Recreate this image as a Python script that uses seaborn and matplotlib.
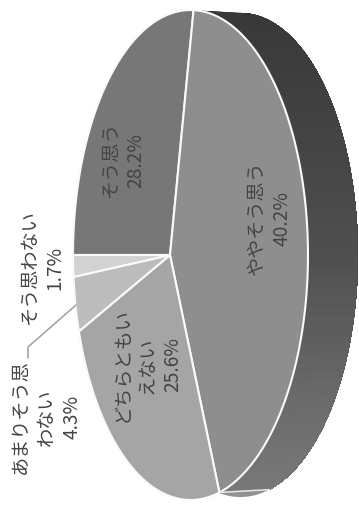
import numpy as np
import matplotlib
matplotlib.use("Agg")
import matplotlib.pyplot as plt
import seaborn as sns

categories = ["そう思う", "ややそう思う", "どちらともいえない", "あまりそう思わない", "そう思わない"]
values = [28.2, 40.2, 25.6, 4.3, 1.7]
label_texts = ["そう思う\n28.2%", "ややそう思う\n40.2%", "どちらともい\nえない\n25.6%",
               "あまりそう思\nわない\n4.3%", "そう思わない\n1.7%"]
label_pos = [(123, 160), (269, 218), (147, 365), (46, 417), (42, 268)]

sns.set_theme(style="white")
plt.rcParams["font.family"] = ["Noto Sans CJK JP", "DejaVu Sans"]

APEX = (170.0, 255.0)
K, A, C = -0.1745, 113.9, 241.2
SHIFT, YSCALE = 50.0, 0.988


def rim(theta):
    u, v = np.cos(theta), np.sin(theta)
    w = 1 + K * u
    return APEX[0] + A * u / w, APEX[1] - C * v / w


def back(x, y):
    return x + SHIFT, APEX[1] + (y - APEX[1]) * YSCALE


fig = plt.figure(figsize=(3.59, 5.05), dpi=100)
ax = fig.add_axes([0, 0, 1, 1])
ax.set_xlim(0, 359)
ax.set_ylim(505, 0)
ax.set_axis_off()

palette = sns.blend_palette(["#777777", "#d2d2d2"], len(values))
fractions = np.cumsum([0] + values) / np.sum(values)
angles = np.pi - 2 * np.pi * fractions

# side wall: painted top to bottom, each layer covering all that lies below it
wall_y = [12, 250, 400, 487]
wall_tone = [0.22, 0.31, 0.42, 0.47]
wall_end = angles[2]
starts = np.linspace(angles[0] * 0.62, wall_end, 90)[:-1]
for t_start in starts:
    ts = np.linspace(t_start, wall_end, 200)
    xs, ys = rim(ts)
    bxs, bys = back(xs, ys)
    tone = np.interp(rim(t_start)[1], wall_y, wall_tone)
    ax.fill(np.r_[xs, bxs[::-1]], np.r_[ys, bys[::-1]], facecolor=(tone, tone, tone), edgecolor="none")

# wall of the next slice
ts = np.linspace(angles[2], angles[3], 200)
xs, ys = rim(ts)
bxs, bys = back(xs, ys)
ax.fill(np.r_[xs, bxs[::-1]], np.r_[ys, bys[::-1]], facecolor="#929292", edgecolor="none")

# boundary on the wall
bx, by = rim(angles[2])
ax.plot([bx, back(bx, by)[0]], [by, back(bx, by)[1]], color="#e8e8e8", lw=1.1, solid_capstyle="round")

# top face
for i in range(len(values)):
    ts = np.linspace(angles[i], angles[i + 1], 200)
    xs, ys = rim(ts)
    ax.fill(np.r_[APEX[0], xs], np.r_[APEX[1], ys], facecolor=palette[i],
            edgecolor="#fafafa", linewidth=1.5, joinstyle="round")

# leader line
ax.plot([76, 28, 28], [305, 347, 358], color="#a6a6a6", lw=1.2)

for txt, (x, y) in zip(label_texts, label_pos):
    ax.text(x, y, txt, rotation=90, ha="center", va="center", multialignment="center",
            fontsize=13.8, color="#444444", linespacing=1.29)

fig.savefig("out.png", dpi=100)
